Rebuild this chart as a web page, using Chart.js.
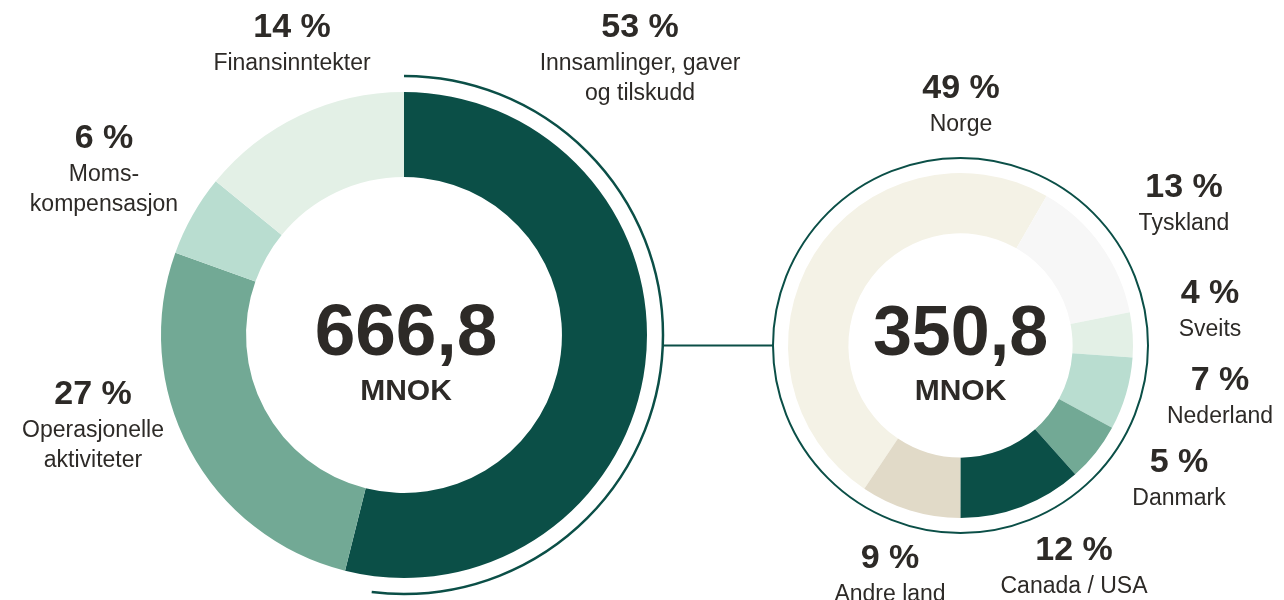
<!DOCTYPE html>
<html>
<head>
<meta charset="utf-8">
<script src="https://cdn.jsdelivr.net/npm/chart.js@4"></script>
<style>
  body { margin: 0; background: #fff; }
  #wrap { position: relative; width: 1284px; height: 600px; }
  #wrap canvas { position: absolute; left: 0; top: 0; }
</style>
</head>
<body>
<div id="wrap">
  <canvas id="incomeChart" width="1284" height="600"></canvas>
  <canvas id="countryChart" width="1284" height="600"></canvas>
</div>
<script>
// Income sources (left ring)
const incomeLabels = [['Innsamlinger, gaver', 'og tilskudd'], ['Operasjonelle', 'aktiviteter'], ['Moms-', 'kompensasjon'], ['Finansinntekter']];
const incomeValues = [53.9, 26.6, 5.4, 14.1];   // slice sizes
const incomePct = [53, 27, 6, 14];               // printed percentages
const incomeTotal = '666,8';

// Fundraising by country (right ring)
const countryLabels = [['Norge'], ['Tyskland'], ['Sveits'], ['Nederland'], ['Danmark'], ['Canada / USA'], ['Andre land']];
const countryValues = [48.9, 13.6, 4.2, 6.8, 5.5, 11.6, 9.4];
const countryPct = [49, 13, 4, 7, 5, 12, 9];
const countryTotal = '350,8';
const unit = 'MNOK';

// label anchors: x centre, baseline of the percent line
const incomeLabelPos = [[640, 37], [93, 404], [104, 148], [292, 37]];
const countryLabelPos = [[961, 98], [1184, 197], [1210, 303], [1220, 390], [1179, 472], [1074, 560], [890, 568]];
// baselines of the big total and the unit inside both rings
const centerBaselines = [355, 400];

const incomeColors = ['#0b4f47', '#72a995', '#b9ddd0', '#e3f0e6'];
const countryColors = ['#f4f2e6', '#f7f7f7', '#e3f0e6', '#b9ddd0', '#72a995', '#0b4f47', '#e1dac8'];

const textColor = '#2d2a27';
const lineColor = '#0b4f47';
const fontFamily = '"Liberation Sans", Arial, sans-serif';

function drawLabels(ctx, labels, pct, positions) {
    ctx.save();
    ctx.fillStyle = textColor;
    ctx.textAlign = 'center';
    ctx.textBaseline = 'alphabetic';
    labels.forEach(function (lines, i) {
        const x = positions[i][0];
        const y = positions[i][1];
        ctx.font = 'bold 34px ' + fontFamily;
        ctx.fillText(pct[i] + ' %', x, y);
        ctx.font = '23px ' + fontFamily;
        lines.forEach(function (line, j) {
            ctx.fillText(line, x, y + 33 + j * 30);
        });
    });
    ctx.restore();
}

function drawCenter(ctx, x, total, size) {
    ctx.save();
    ctx.fillStyle = textColor;
    ctx.textAlign = 'center';
    ctx.textBaseline = 'alphabetic';
    ctx.font = 'bold ' + size + 'px ' + fontFamily;
    ctx.fillText(total, x, centerBaselines[0]);
    ctx.font = 'bold 30px ' + fontFamily;
    ctx.fillText(unit, x, centerBaselines[1]);
    ctx.restore();
}

const incomeChart = new Chart(document.getElementById('incomeChart'), {
    type: 'doughnut',
    data: {
        labels: incomeLabels.map(l => l.join(' ')),
        datasets: [{
            data: incomeValues,
            backgroundColor: incomeColors,
            borderWidth: 0
        }]
    },
    options: {
        responsive: false,
        animation: false,
        events: [],
        cutout: '65%',
        layout: { padding: { left: 161, top: 92, right: 637, bottom: 22 } },
        plugins: { legend: { display: false }, tooltip: { enabled: false } }
    },
    plugins: [{
        id: 'incomeDecor',
        afterDraw(chart) {
            const ctx = chart.ctx;
            const arc = chart.getDatasetMeta(0).data[0];
            // thin arc around the biggest slice
            ctx.save();
            ctx.strokeStyle = lineColor;
            ctx.lineWidth = 2.5;
            ctx.beginPath();
            ctx.arc(arc.x, arc.y, arc.outerRadius + 16, arc.startAngle, arc.endAngle - 0.12);
            ctx.stroke();
            ctx.restore();
            drawCenter(ctx, arc.x + 2, incomeTotal, 73);
            drawLabels(ctx, incomeLabels, incomePct, incomeLabelPos);
        }
    }]
});

const countryChart = new Chart(document.getElementById('countryChart'), {
    type: 'doughnut',
    data: {
        labels: countryLabels.map(l => l.join(' ')),
        datasets: [{
            data: countryValues,
            backgroundColor: countryColors,
            borderWidth: 0
        }]
    },
    options: {
        responsive: false,
        animation: false,
        events: [],
        cutout: '65%',
        rotation: 213.9,
        layout: { padding: { left: 788, top: 173, right: 151, bottom: 82 } },
        plugins: { legend: { display: false }, tooltip: { enabled: false } }
    },
    plugins: [{
        id: 'countryDecor',
        afterDraw(chart) {
            const ctx = chart.ctx;
            const arc = chart.getDatasetMeta(0).data[0];
            const ringR = arc.outerRadius + 15;
            ctx.save();
            ctx.strokeStyle = lineColor;
            ctx.lineWidth = 2;
            ctx.beginPath();
            ctx.arc(arc.x, arc.y, ringR, 0, Math.PI * 2);
            ctx.stroke();
            // connector from the left arc to this ring
            const left = incomeChart.getDatasetMeta(0).data[0];
            const leftR = left.outerRadius + 16;
            const dy = arc.y - left.y;
            const startX = left.x + Math.sqrt(leftR * leftR - dy * dy);
            ctx.beginPath();
            ctx.moveTo(startX, arc.y);
            ctx.lineTo(arc.x - ringR, arc.y);
            ctx.stroke();
            ctx.restore();
            drawCenter(ctx, arc.x, countryTotal, 70);
            drawLabels(ctx, countryLabels, countryPct, countryLabelPos);
        }
    }]
});
</script>
</body>
</html>
